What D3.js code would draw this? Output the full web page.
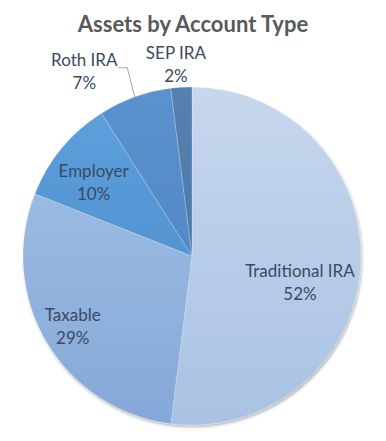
<!DOCTYPE html>
<html>
<head>
<meta charset="utf-8">
<script src="https://cdn.jsdelivr.net/npm/d3@7"></script>
<style>
  body { margin: 0; background: #fff; }
  svg { display: block; }
  text { font-family: Lato, "Open Sans", sans-serif; }
</style>
</head>
<body>
<svg id="chart" width="386" height="441"></svg>
<script>
// Data
const accounts = ['Traditional IRA', 'Taxable', 'Employer', 'Roth IRA', 'SEP IRA'];
const shares = [52, 29, 10, 7, 2];
const topColors = ['#c7d7ed', '#a6c3e7', '#5fa0de', '#5a92cf', '#5580b0'];
const bottomColors = ['#a9c2e3', '#84a8d8', '#4688c8', '#4a7fbd', '#4a72a2'];

const width = 386;
const height = 441;
const cx = 192;
const cy = 256;
const radius = 169;

const svg = d3.select('#chart');
const defs = svg.append('defs');

// soft shadow under the pie
const shadow = defs.append('filter')
  .attr('id', 'shadow')
  .attr('x', '-10%').attr('y', '-10%')
  .attr('width', '120%').attr('height', '120%');
shadow.append('feDropShadow')
  .attr('dx', 1).attr('dy', 2)
  .attr('stdDeviation', 1.8)
  .attr('flood-color', '#000')
  .attr('flood-opacity', 0.3);

// a vertical gradient for each slice
accounts.forEach((name, i) => {
  const grad = defs.append('linearGradient')
    .attr('id', `grad${i}`)
    .attr('gradientUnits', 'userSpaceOnUse')
    .attr('x1', 0).attr('y1', -radius)
    .attr('x2', 0).attr('y2', radius);
  grad.append('stop').attr('offset', '0%').attr('stop-color', topColors[i]);
  grad.append('stop').attr('offset', '100%').attr('stop-color', bottomColors[i]);
});

svg.append('text')
  .attr('x', 193)
  .attr('y', 32)
  .attr('text-anchor', 'middle')
  .attr('font-size', 22)
  .attr('font-weight', 'bold')
  .attr('fill', '#595959')
  .text('Assets by Account Type');

const pie = d3.pie().sort(null).value((d) => d.value);
const arcs = pie(accounts.map((name, i) => ({ name, value: shares[i], i })));

const arc = d3.arc().innerRadius(0).outerRadius(radius);

const g = svg.append('g').attr('transform', `translate(${cx},${cy})`);

g.append('g')
  .attr('filter', 'url(#shadow)')
  .selectAll('path')
  .data(arcs)
  .join('path')
  .attr('d', arc)
  .attr('fill', (d) => `url(#grad${d.data.i})`)
  .attr('stroke', 'rgba(255,255,255,0.35)')
  .attr('stroke-width', 0.6);

// label placement: fraction of radius from the centre, plus small nudges
const labelRadius = [0.64, 0.82, 0.74, 1.165, 1.14];
const nudge = [[0, 19], [0, 0], [-2, 6], [-41, 0], [-4, 0]];
const fmt = (v) => `${v}%`;

const labelPos = (d) => {
  const r = radius * labelRadius[d.data.i];
  const c = d3.arc().innerRadius(r).outerRadius(r).centroid(d);
  const n = nudge[d.data.i];
  return [c[0] + n[0], c[1] + n[1]];
};

const labels = g.append('g')
  .selectAll('text')
  .data(arcs)
  .join('text')
  .attr('text-anchor', 'middle')
  .attr('font-size', 17)
  .attr('fill', '#3b4a60')
  .attr('transform', (d) => `translate(${labelPos(d)})`);

labels.append('tspan')
  .attr('x', 0)
  .attr('dy', '-0.3em')
  .text((d) => d.data.name);
labels.append('tspan')
  .attr('x', 0)
  .attr('dy', '1.35em')
  .text((d) => fmt(d.data.value));

// leader line for the Roth IRA label
const roth = arcs[3];
const rothEdge = d3.arc().innerRadius(radius).outerRadius(radius).centroid(roth);
const rothLabel = labelPos(roth);
const lx = rothLabel[0] + 34;
const ly = rothLabel[1] - 3;
g.append('polyline')
  .attr('points', `${lx},${ly} ${lx + 9},${ly} ${rothEdge[0]},${rothEdge[1]}`)
  .attr('fill', 'none')
  .attr('stroke', '#a6a6a6')
  .attr('stroke-width', 1);
</script>
</body>
</html>
